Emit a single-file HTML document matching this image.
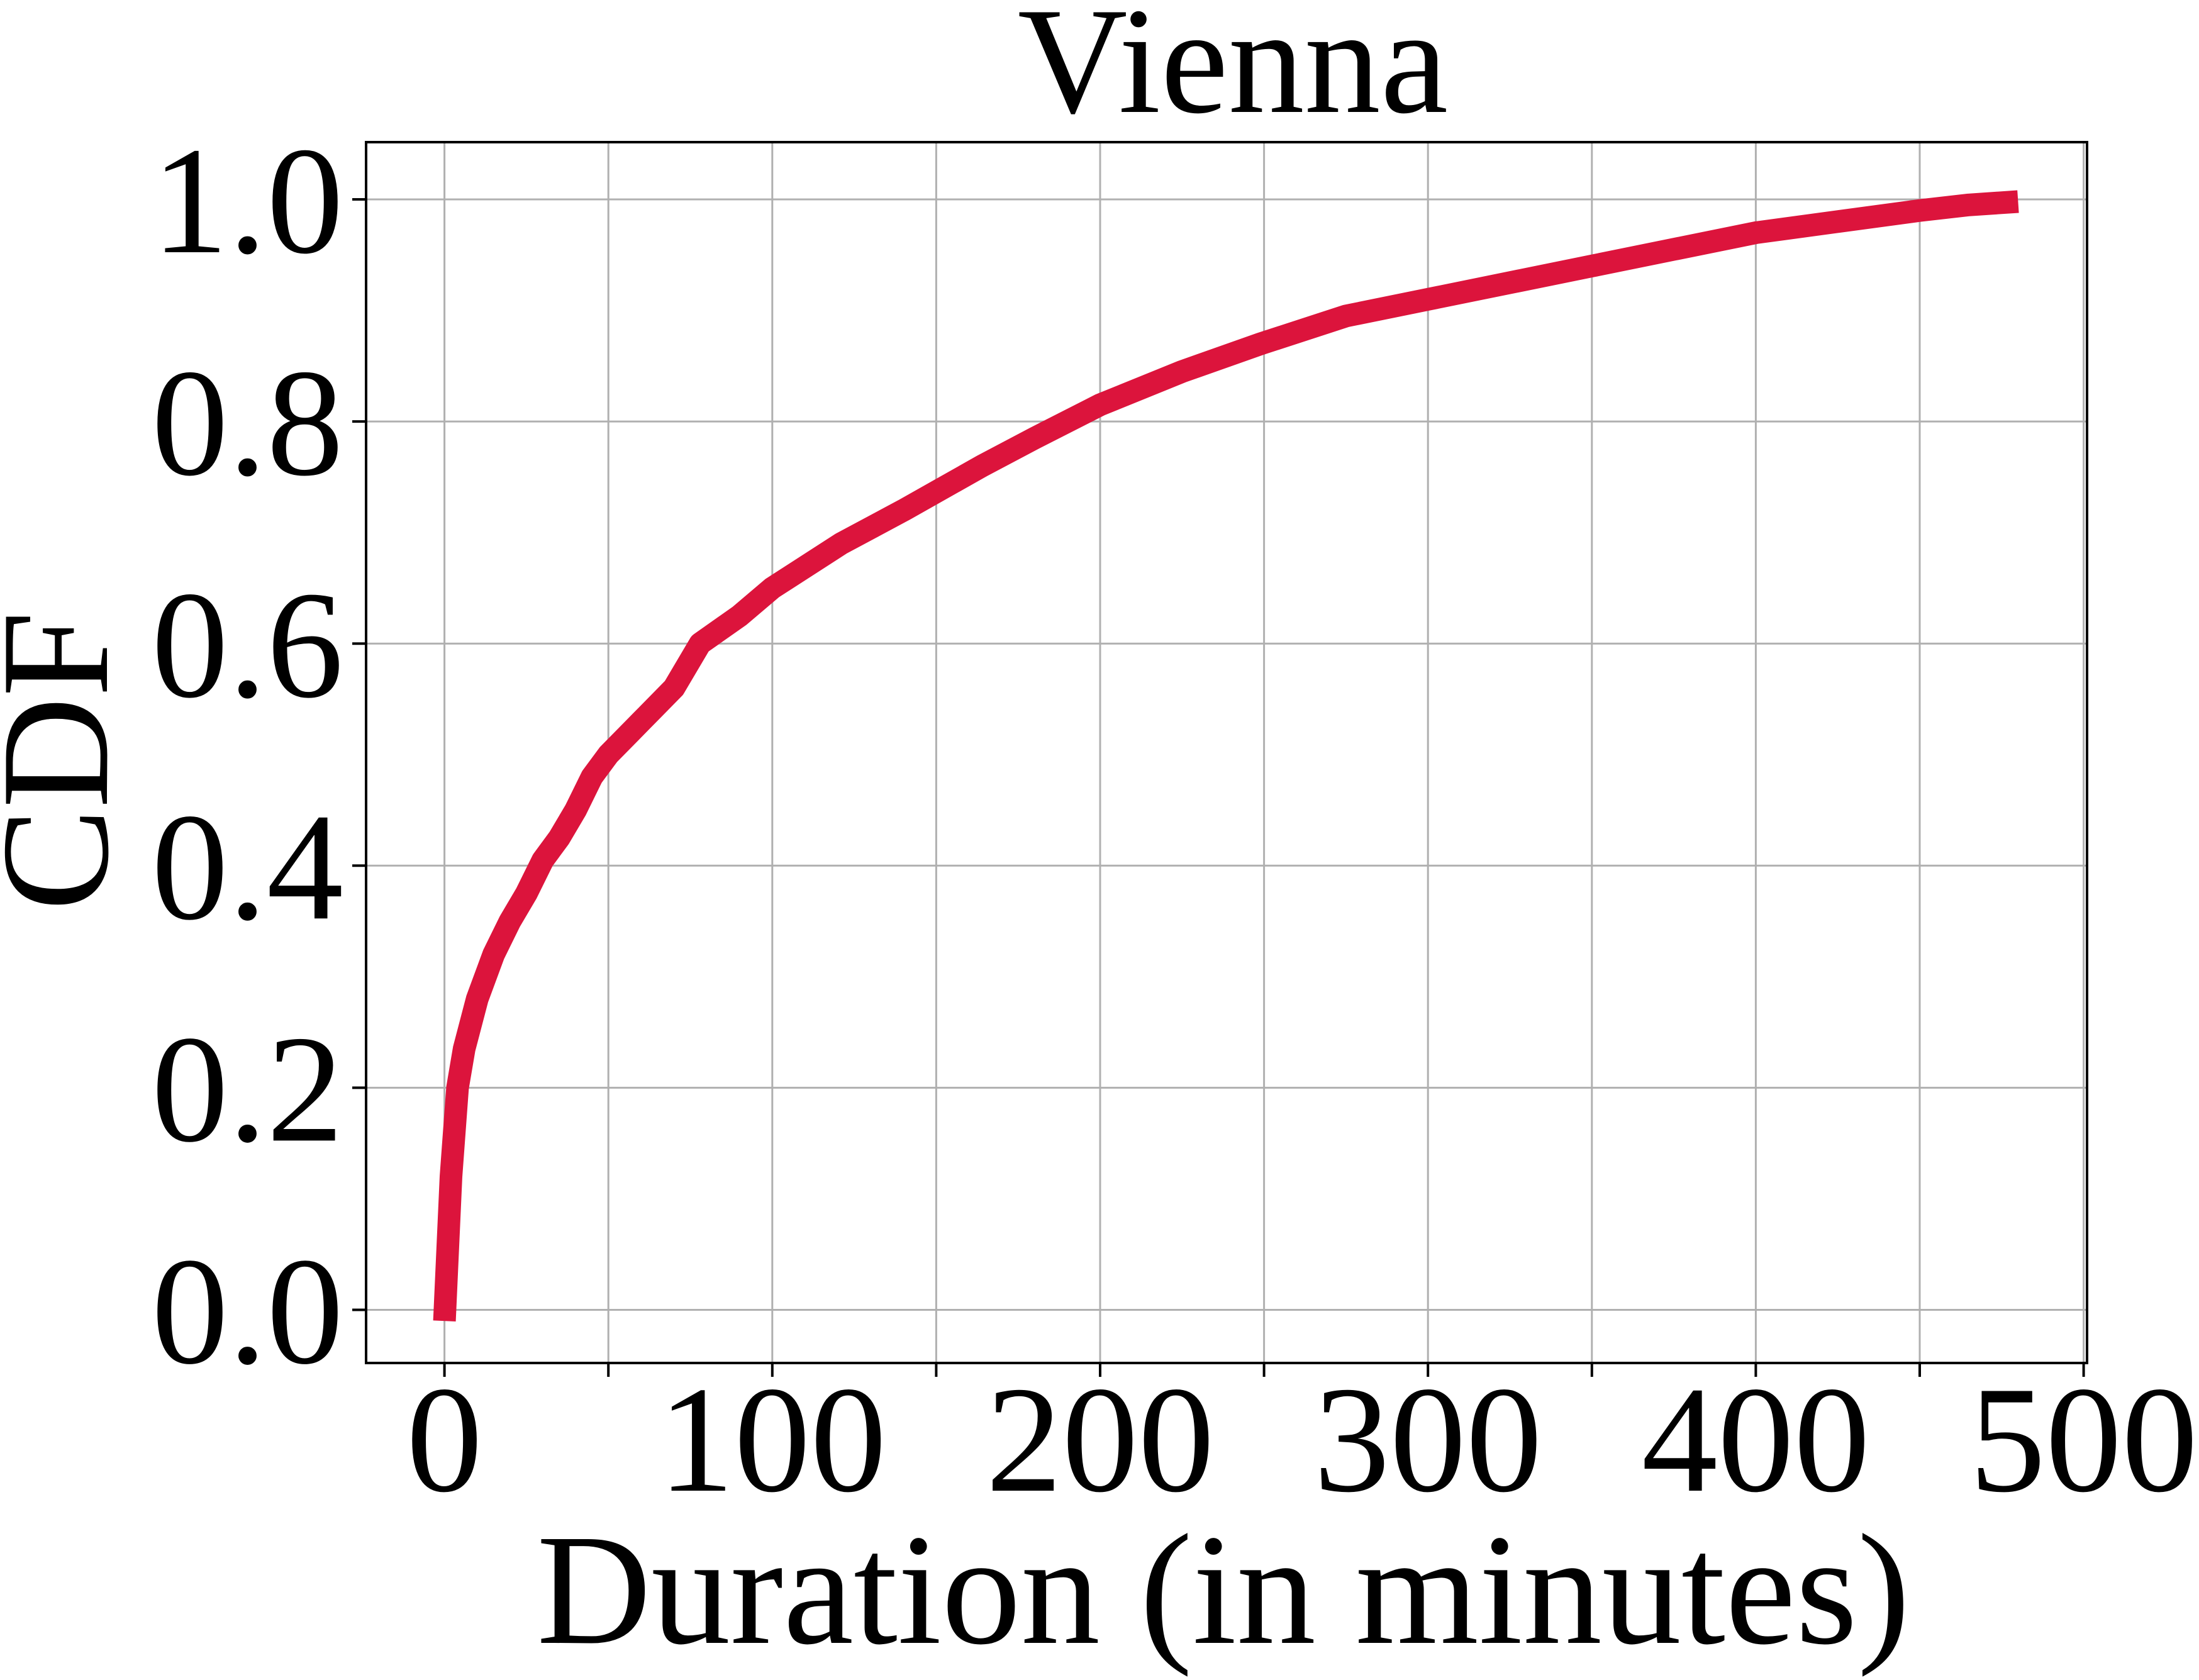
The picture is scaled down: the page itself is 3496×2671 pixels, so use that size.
<!DOCTYPE html>
<html><head><meta charset="utf-8"><style>
html,body{margin:0;padding:0;background:#fff;}
svg{display:block;}
text{font-family:"Liberation Serif",serif;fill:#000;}
</style></head><body>
<svg id="chart" width="3496" height="2671" viewBox="0 0 3496 2671" xmlns="http://www.w3.org/2000/svg">
<g id="grid"></g>
<g id="series"></g>
<rect x="582" y="226" width="2736" height="1941" fill="none" stroke="#000" stroke-width="4"/>
<g id="ticks"></g>
<text x="1960" y="178" font-size="242" text-anchor="middle">Vienna</text>
<text x="1945" y="2612" font-size="252" text-anchor="middle">Duration (in minutes)</text>
<text x="0" y="0" font-size="245" text-anchor="middle" transform="translate(170,1210) rotate(-90)">CDF</text>
</svg>
<script>
const xTicks=[0,100,200,300,400,500];
const xMinor=[50,150,250,350,450];
const yTicks=[0,0.2,0.4,0.6,0.8,1.0];
const yTickLabels=["0.0","0.2","0.4","0.6","0.8","1.0"];
const durations=[0,2,4,6,10,15,20,25,30,35,40,45,50,60,70,78,90,100,121,140,164,180,200,225,249,275,300,325,350,375,400,425,450,465,480];
const cdfValues=[-0.01,0.12,0.2,0.235,0.28,0.32,0.35,0.375,0.405,0.425,0.45,0.48,0.5,0.53,0.56,0.6,0.625,0.65,0.69,0.72,0.76,0.785,0.815,0.845,0.87,0.895,0.91,0.925,0.94,0.955,0.97,0.98,0.99,0.995,0.998];
const X=v=>706.6+v*5.212;
const Y=v=>2082.5-v*1765.5;
const NS="http://www.w3.org/2000/svg";
const grid=document.getElementById('grid'),ticks=document.getElementById('ticks'),series=document.getElementById('series');
function mk(tag,attrs,parent){const e=document.createElementNS(NS,tag);for(const k in attrs)e.setAttribute(k,attrs[k]);parent.appendChild(e);return e;}
[...xTicks,...xMinor].forEach(v=>{
 const l=mk('line',{x1:X(v),x2:X(v),y1:226,y2:2167,stroke:'#b0b0b0','stroke-width':3},grid);
 
 
 const t=mk('line',{x1:X(v),x2:X(v),y1:2167,y2:2189,stroke:'#000','stroke-width':4},ticks);
 
 
});
xTicks.forEach(v=>{
 const t=mk('text',{x:X(v),y:2370,'font-size':242,'text-anchor':'middle'},ticks);
 t.textContent=String(v);
 
 
});
yTicks.forEach((v,i)=>{
 const l=mk('line',{x1:582,x2:3318,y1:Y(v),y2:Y(v),stroke:'#b0b0b0','stroke-width':3},grid);
 
 
 const tk=mk('line',{x1:560,x2:582,y1:Y(v),y2:Y(v),stroke:'#000','stroke-width':4},ticks);
 
 
 const t=mk('text',{x:546,y:Y(v)+84,'font-size':244,'text-anchor':'end'},ticks);
 t.textContent=yTickLabels[i];
 
 
});
const pts=durations.map((d,i)=>X(d).toFixed(1)+','+Y(cdfValues[i]).toFixed(1)).join(' ');
const line=mk('polyline',{points:pts,fill:'none',stroke:'#dc143c','stroke-width':36,'stroke-linejoin':'round'},series);


</script>
</body></html>
